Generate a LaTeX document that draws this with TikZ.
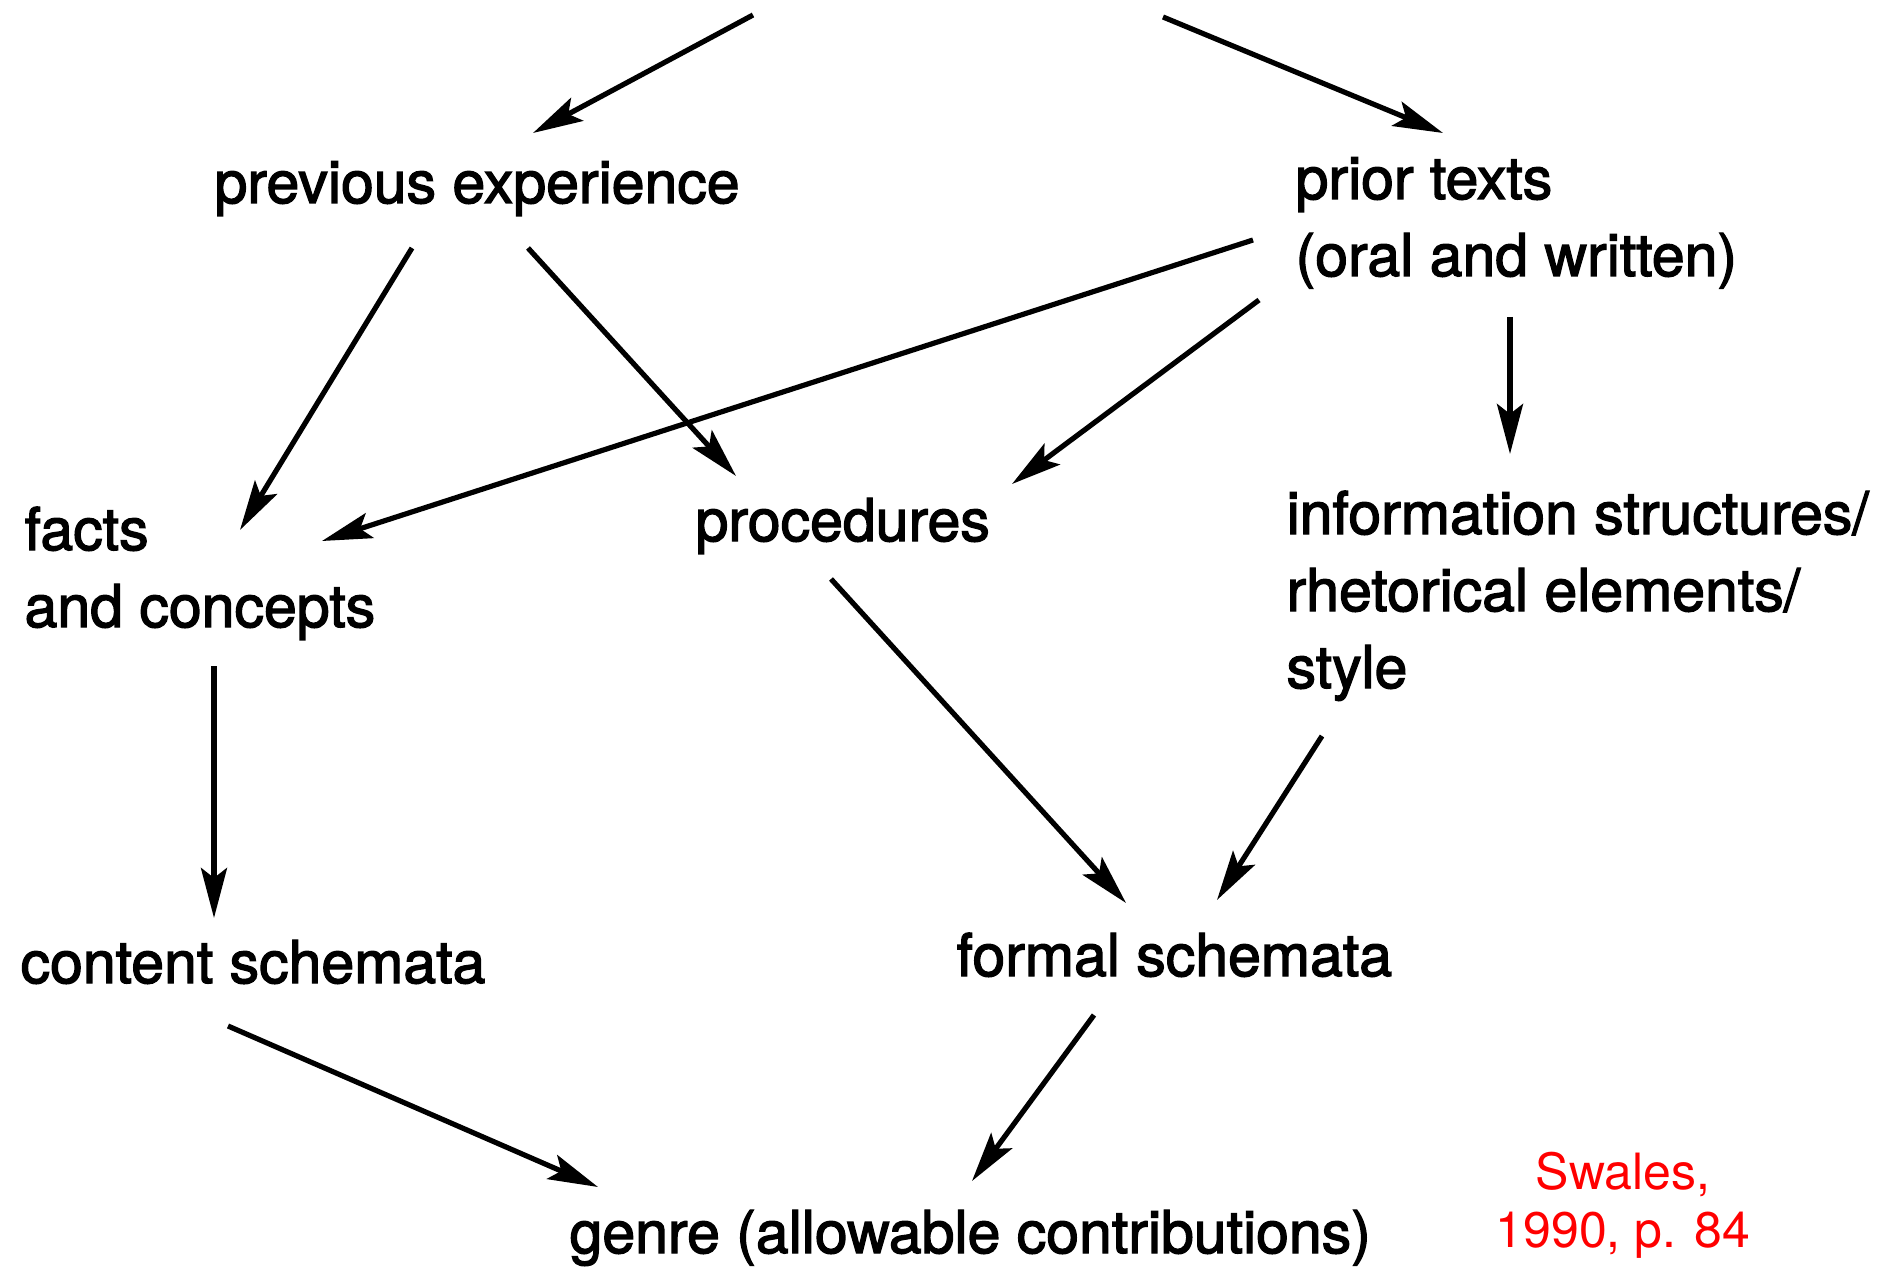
\documentclass[tikz,border=0pt]{standalone}
\usepackage{fontspec}
\setmainfont{TeX Gyre Heros}
\newfontfamily\conceptfont{TeX Gyre Heros}[FakeBold=2.2]
\usetikzlibrary{arrows.meta}
\tikzstyle{concept} = [inner sep=0pt, anchor=base west, align=left,
    font=\conceptfont\fontsize{29.5}{38.5}\selectfont]
\tikzstyle{source} = [inner sep=0pt, anchor=base, align=center, text=red,
    font=\fontsize{25}{29}\selectfont]

\begin{document}
\begin{tikzpicture}[x=0.5pt,y=-0.5pt,->,>={Stealth[length=25pt,width=13pt,inset=5pt]},
                    line width=2.6pt]
  \useasboundingbox (0,0) rectangle (1899,1272);
  \coordinate (topL) at (753,15);
  \coordinate (topR) at (1163,17);

  \node[concept] (prev) at (212,203) {previous experience};
  \node[concept] (prior) at (1293,276) {prior texts\\(oral and written)};
  \node[concept] (facts) at (22,627) {facts\\and concepts};
  \node[concept] (proc) at (693,541) {procedures};
  \node[concept] (info) at (1284,688) {information structures/\\rhetorical elements/\\style};
  \node[concept] (content) at (18,983) {content schemata};
  \node[concept] (formal) at (954,976) {formal schemata};
  \node[concept] (genre) at (567,1253) {genre (allowable contributions)};
  \node[source] (swales) at (1623,1247) {Swales,\\1990, p. 84};

  \path (topL) edge ([shift={(321,-70)}]prev.base west)
        (topR) edge ([shift={(150,-143)}]prior.base west)
        ([shift={(200,45)}]prev.base west) edge ([shift={(218,-97)}]facts.base west)
        ([shift={(316,45)}]prev.base west) edge ([shift={(43,-65)}]proc.base west)
        ([shift={(-40,-36)}]prior.base west) edge ([shift={(300,-86)}]facts.base west)
        ([shift={(-34,24)}]prior.base west) edge ([shift={(319,-57)}]proc.base west)
        ([shift={(217,41)}]prior.base west) edge ([shift={(226,-234)}]info.base west)
        ([shift={(192,39)}]facts.base west) edge ([shift={(196,-65)}]content.base west)
        ([shift={(138,38)}]proc.base west) edge ([shift={(172,-73)}]formal.base west)
        ([shift={(38,48)}]info.base west) edge ([shift={(263,-76)}]formal.base west)
        ([shift={(210,43)}]content.base west) edge ([shift={(31,-66)}]genre.base west)
        ([shift={(140,39)}]formal.base west) edge ([shift={(405,-72)}]genre.base west);
\end{tikzpicture}
\end{document}
